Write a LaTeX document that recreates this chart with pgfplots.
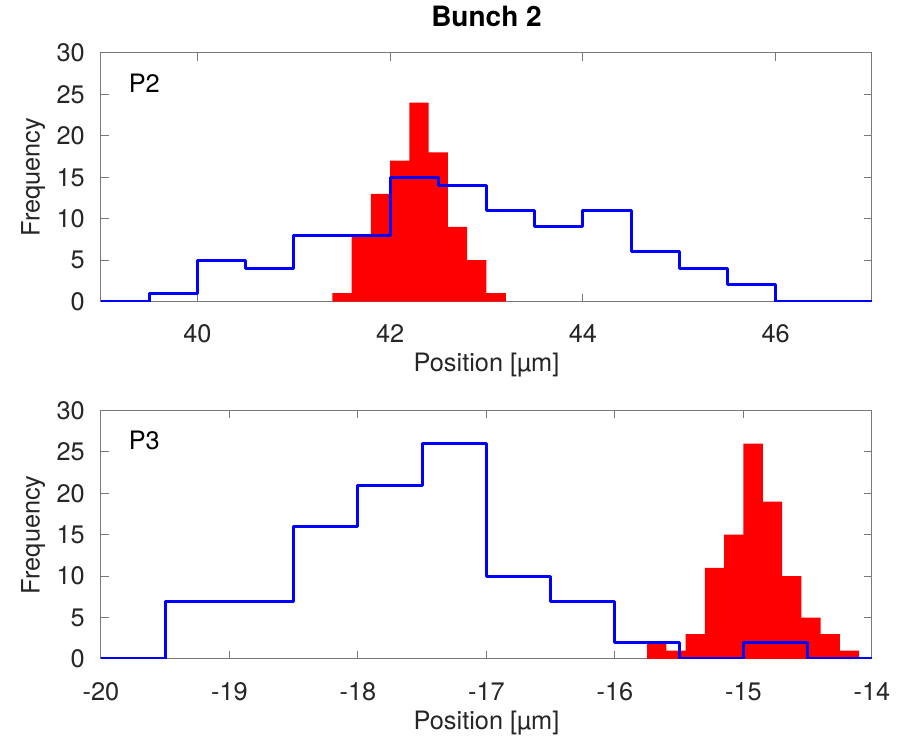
\documentclass[border=0pt]{standalone}
\usepackage{pgfplots}
\pgfplotsset{compat=1.18}
\usepackage{fontspec}
\setmainfont{TeX Gyre Heros}

\definecolor{axgray}{RGB}{120,120,120}
\definecolor{txt}{RGB}{38,38,38}

\pgfplotsset{
  mystyle/.style={
    scale only axis, width=578.25pt, height=186.4pt,
    ymin=0, ymax=30, ytick={0,5,...,30},
    axis line style={axgray, line width=0.75pt},
    tick style={axgray, line width=0.75pt},
    major tick length=5.8pt,
    tick align=inside,
    font=\fontsize{19}{22}\selectfont,
    /pgf/number format/assume math mode=true,
    ticklabel style={text=txt},
    xticklabel style={anchor=base, yshift=-30.75pt, inner sep=0pt},
    yticklabel style={anchor=east, xshift=-12pt, inner sep=0pt},
    xlabel style={at={(axis description cs:0.5,-0.282)}, anchor=base, text=txt, inner sep=0pt},
    ylabel style={at={(axis description cs:-0.088,0.5)}, anchor=center, text=txt, inner sep=0pt},
    xlabel={Position [µm]}, ylabel={Frequency},
  }
}

\begin{document}
\begin{tikzpicture}
\path[use as bounding box] (-75.75pt,-57.75pt) rectangle (605.25pt,494.25pt);

% Top panel (P2)
\begin{axis}[mystyle, at={(0pt,268.1pt)}, anchor=south west,
  xmin=39, xmax=47, xtick={40,42,44,46},
  title={Bunch 2},
  title style={at={(axis description cs:0.5,1)}, anchor=base, yshift=14pt,
    font=\fontsize{21}{24}\selectfont\bfseries, inner sep=0pt, text=black},
]
\addplot[ybar interval, fill=red, draw=none] coordinates {
  (41.4,1) (41.6,8) (41.8,13) (42.0,17) (42.2,24) (42.4,18) (42.6,9) (42.8,5) (43.0,1) (43.2,0)
};
\addplot[const plot mark left, blue, line width=2.25pt, line join=round] coordinates {
  (39,0) (39.5,1) (40,5) (40.5,4) (41,8) (41.5,8) (42,15) (42.5,14) (43,11) (43.5,9)
  (44,11) (44.5,6) (45,4) (45.5,2) (46,0) (46.5,0) (47,0)
};
\node[anchor=base west, text=black] at (axis description cs:0.03,0.842) {P2};
\end{axis}

% Bottom panel (P3)
\begin{axis}[mystyle, at={(0pt,0pt)}, anchor=south west,
  xmin=-20, xmax=-14, xtick={-20,-19,-18,-17,-16,-15,-14},
  xticklabels={-20,-19,-18,-17,-16,-15,-14},
]
\addplot[ybar interval, fill=red, draw=none] coordinates {
  (-15.75,2) (-15.60,1) (-15.45,3) (-15.30,11) (-15.15,15) (-15.00,26) (-14.85,19)
  (-14.70,10) (-14.55,5) (-14.40,3) (-14.25,1) (-14.10,0)
};
\addplot[const plot mark left, blue, line width=2.25pt, line join=round] coordinates {
  (-20,0) (-19.5,7) (-19,7) (-18.5,16) (-18,21) (-17.5,26) (-17,10) (-16.5,7)
  (-16,2) (-15.5,0) (-15,2) (-14.5,0) (-14,0)
};
\node[anchor=base west, text=black] at (axis description cs:0.03,0.842) {P3};
\end{axis}
\end{tikzpicture}
\end{document}
